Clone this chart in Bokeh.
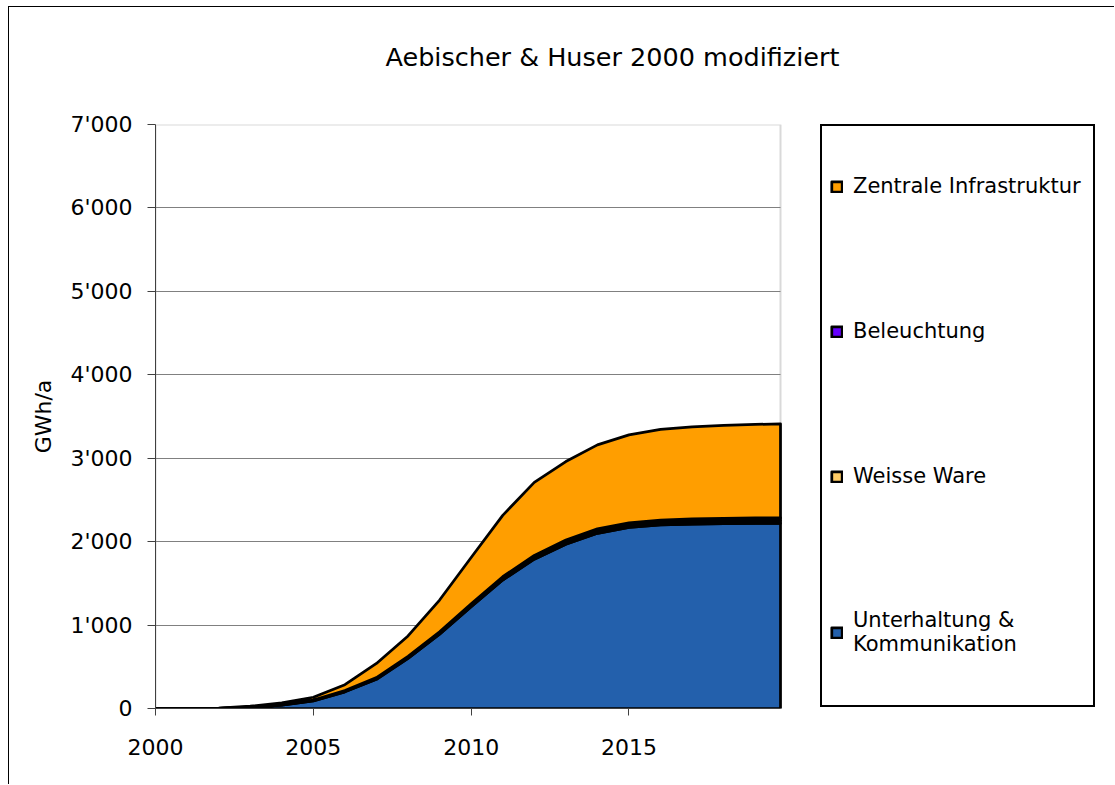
import numpy as np
from bokeh.plotting import figure
from bokeh.models import (Range1d, FixedTicker, CustomJSTickFormatter, Legend, LegendItem,
                          BoxAnnotation, Title)
from bokeh.embed import file_html
from bokeh.resources import INLINE

# ---- data (GWh/a) ----
years = [2000, 2001, 2002, 2003, 2004, 2005, 2006, 2007, 2008, 2009, 2010,
         2011, 2012, 2013, 2014, 2015, 2016, 2017, 2018, 2019, 2019.8]
unterhaltung = [0, 0, 2, 15, 40, 90, 200, 350, 600, 890, 1220,
                1540, 1790, 1970, 2100, 2170, 2200, 2210, 2215, 2220, 2220]
weisse_ware = [0, 0, 0, 2, 4, 6, 8, 10, 12, 14, 16,
               18, 20, 22, 24, 26, 28, 30, 31, 32, 32]
beleuchtung = [0, 0, 0, 2, 4, 6, 8, 10, 13, 16, 19,
               22, 25, 27, 29, 30, 31, 32, 32, 32, 32]
zentrale = [0, 0, 3, 9, 20, 33, 69, 170, 245, 380, 555,
            735, 875, 941, 1007, 1054, 1086, 1103, 1117, 1121, 1128]

series_names = ["Unterhaltung &\nKommunikation", "Weisse Ware", "Beleuchtung", "Zentrale Infrastruktur"]
series_values = [unterhaltung, weisse_ware, beleuchtung, zentrale]
series_colors = ["#2360AC", "#FFCC66", "#6600FF", "#FF9E00"]

x_ticks = [2000, 2005, 2010, 2015]
y_ticks = [0, 1000, 2000, 3000, 4000, 5000, 6000, 7000]

title_text = "Aebischer & Huser 2000 modifiziert"
y_label = "GWh/a"
FONT = "DejaVu Sans"

# layout (pixels)
W, H = 1106, 778
BORDER_L, BORDER_T, BORDER_B = 146, 117, 77
PLOT_W = 625                      # width of the plotting area
FRAME_W = W - BORDER_L            # frame also hosts the legend
x_end = years[0] + (years[-1] - years[0]) * FRAME_W / PLOT_W

p = figure(width=W, height=H, title=None,
           x_range=Range1d(years[0], x_end), y_range=Range1d(y_ticks[0], y_ticks[-1]),
           output_backend="svg", toolbar_location=None,
           min_border_left=BORDER_L, min_border_right=0,
           min_border_top=BORDER_T, min_border_bottom=BORDER_B)

p.styles = {"margin-left": "8px", "margin-top": "6px",
            "border-left": "1px solid black", "border-top": "1px solid black"}

# titles: a spacer next to the frame, then the real title
spacer = Title(text=" ", text_font_size="10px", standoff=40)
p.add_layout(spacer, "above")
title = Title(text=title_text, align="left", offset=230, standoff=0,
              vertical_align="bottom",
              text_font=FONT, text_font_size="25.5px", text_font_style="normal",
              text_color="black")
p.add_layout(title, "above")

# frame
p.outline_line_color = None
p.background_fill_color = "white"
p.border_fill_color = "white"

p.xgrid.grid_line_color = None
p.ygrid.grid_line_color = "#808080"
p.ygrid.grid_line_width = 1

# mask grid lines to the right of the plotting area, and draw its gray border
mask = BoxAnnotation(left=years[-1], right=x_end, bottom=y_ticks[0], top=y_ticks[-1],
                     fill_color="white", fill_alpha=1.0, line_color=None,
                     level="underlay")
p.add_layout(mask)
area_border = BoxAnnotation(left=years[0], right=years[-1], bottom=y_ticks[0], top=y_ticks[-1],
                            fill_alpha=0.0, line_color="#808080", line_width=2,
                            level="underlay")
p.add_layout(area_border)

# stacked areas
x = np.array(years, dtype=float)
bottom = np.zeros(len(years))
renderers = []
for name, vals, col in zip(series_names, series_values, series_colors):
    top = bottom + np.array(vals, dtype=float)
    xs = list(x) + list(x[::-1])
    ys = list(top) + list(bottom[::-1])
    r = p.patch(x=xs, y=ys, fill_color=col, line_color="black",
                line_width=2.75, line_join="round")
    renderers.append(r)
    bottom = top

# axes
p.xaxis.ticker = FixedTicker(ticks=x_ticks)
p.xaxis.bounds = (years[0], years[-1])
p.yaxis.ticker = FixedTicker(ticks=y_ticks)
p.yaxis.formatter = CustomJSTickFormatter(code="""
    const s = Math.round(tick).toString();
    return s.replace(/\\B(?=(\\d{3})+(?!\\d))/g, "'");
""")
for ax in (p.xaxis[0], p.yaxis[0]):
    ax.axis_line_color = "#404040"
    ax.axis_line_width = 1
    ax.major_tick_line_color = "#404040"
    ax.major_tick_in = 0
    ax.minor_tick_line_color = None
    ax.major_label_text_font = FONT
    ax.major_label_text_font_size = "22px"
    ax.major_label_text_color = "black"
p.xaxis.major_tick_out = 7
p.xaxis.major_label_standoff = 23
p.yaxis.major_tick_out = 8
p.yaxis.major_label_standoff = 15

p.yaxis.axis_label = y_label
p.yaxis.axis_label_text_font = FONT
p.yaxis.axis_label_text_font_size = "22px"
p.yaxis.axis_label_text_font_style = "normal"
p.yaxis.axis_label_text_color = "black"
p.yaxis.axis_label_standoff = 11

# legend frame (a legend with one blank entry, sized to the box)
LEG_X = 665
dummy = p.scatter(x=[], y=[], fill_alpha=0, line_alpha=0)
box = Legend(items=[LegendItem(label=" ", renderers=[dummy])], location=(LEG_X, 1),
             padding=0, margin=0, spacing=0,
             glyph_width=1, glyph_height=1, label_standoff=0,
             label_width=270, label_height=579,
             label_text_font_size="10px",
             border_line_color="black", border_line_width=2, border_line_alpha=1.0,
             background_fill_color="white", background_fill_alpha=1.0)
p.add_layout(box)

# legend entries
items = [LegendItem(label=series_names[i], renderers=[renderers[i]]) for i in [3, 2, 1, 0]]
legend = Legend(items=items, location=(LEG_X + 10, 52), margin=0,
                label_text_font=FONT, label_text_font_size="21px",
                label_text_color="black",
                glyph_width=13, glyph_height=13, label_standoff=10,
                padding=10, spacing=119, label_height=26,
                border_line_color=None, background_fill_alpha=0.0)
p.add_layout(legend)

open("out.html", "w").write(file_html(p, INLINE))
